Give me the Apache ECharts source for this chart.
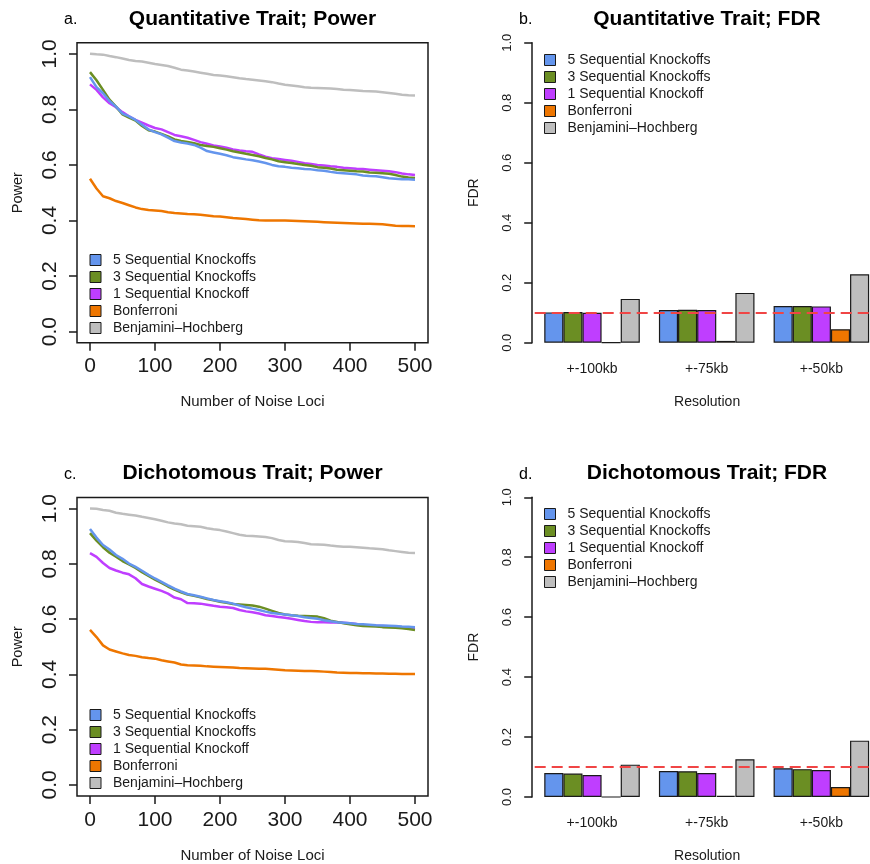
<!DOCTYPE html>
<html>
<head>
<meta charset="utf-8">
<title>Sequential Knockoffs: Power and FDR</title>
<script src="https://cdn.jsdelivr.net/npm/echarts@6/dist/echarts.min.js"></script>
<style>
html, body { margin: 0; padding: 0; background: #fff; }
#main { width: 870px; height: 864px; }
</style>
</head>
<body>
<div id="main"></div>
<script>
var methods = ['5 Sequential Knockoffs', '3 Sequential Knockoffs', '1 Sequential Knockoff', 'Bonferroni', 'Benjamini\u2013Hochberg'];
var colors = ['#6495ED', '#6B8E23', '#BF3EFF', '#EE7600', '#BEBEBE'];

var noiseLoci = [0, 10, 20, 30, 40, 50, 60, 70, 80, 90, 100, 110, 120, 130, 140, 150, 160, 170, 180, 190, 200,
    210, 220, 230, 240, 250, 260, 270, 280, 290, 300, 310, 320, 330, 340, 350, 360, 370, 380, 390, 400,
    410, 420, 430, 440, 450, 460, 470, 480, 490, 500];
var lociTicks = [0, 100, 200, 300, 400, 500];
var probTicks = [0, 0.2, 0.4, 0.6, 0.8, 1.0];
var resolutions = ['+-100kb', '+-75kb', '+-50kb'];
var resolutionSlots = [0, 1, 2];
var fdrTarget = 0.1;

// a. quantitative trait, power vs number of noise loci
var quantPow5 = [0.916, 0.880, 0.858, 0.830, 0.810, 0.785, 0.775, 0.762, 0.745, 0.728, 0.718, 0.710, 0.698, 0.686, 0.681, 0.677, 0.672, 0.662, 0.650, 0.645, 0.640,
    0.635, 0.628, 0.624, 0.620, 0.617, 0.612, 0.607, 0.600, 0.595, 0.593, 0.590, 0.588, 0.585, 0.584, 0.581, 0.579, 0.575, 0.572, 0.570, 0.568,
    0.566, 0.562, 0.560, 0.559, 0.556, 0.552, 0.550, 0.548, 0.548, 0.547];
var quantPow3 = [0.934, 0.905, 0.870, 0.835, 0.810, 0.782, 0.770, 0.760, 0.740, 0.725, 0.720, 0.712, 0.703, 0.692, 0.686, 0.683, 0.678, 0.672, 0.668, 0.665, 0.660,
    0.655, 0.649, 0.645, 0.640, 0.636, 0.631, 0.625, 0.620, 0.613, 0.610, 0.607, 0.603, 0.600, 0.597, 0.592, 0.590, 0.587, 0.583, 0.581, 0.579,
    0.577, 0.576, 0.573, 0.572, 0.570, 0.568, 0.564, 0.558, 0.555, 0.553];
var quantPow1 = [0.890, 0.870, 0.843, 0.822, 0.808, 0.790, 0.775, 0.762, 0.752, 0.742, 0.733, 0.728, 0.718, 0.708, 0.703, 0.698, 0.690, 0.682, 0.676, 0.670, 0.666,
    0.662, 0.656, 0.652, 0.649, 0.647, 0.638, 0.630, 0.624, 0.621, 0.618, 0.615, 0.611, 0.606, 0.603, 0.600, 0.598, 0.595, 0.593, 0.590, 0.588,
    0.586, 0.585, 0.583, 0.581, 0.579, 0.577, 0.574, 0.569, 0.566, 0.564];
var quantPowBonf = [0.550, 0.515, 0.487, 0.480, 0.470, 0.463, 0.455, 0.447, 0.441, 0.438, 0.436, 0.434, 0.430, 0.427, 0.425, 0.423, 0.422, 0.421, 0.418, 0.415, 0.414,
    0.412, 0.409, 0.407, 0.405, 0.403, 0.401, 0.400, 0.400, 0.400, 0.400, 0.399, 0.398, 0.397, 0.396, 0.395, 0.394, 0.393, 0.392, 0.391, 0.390,
    0.389, 0.388, 0.388, 0.387, 0.386, 0.384, 0.381, 0.380, 0.380, 0.379];
var quantPowBH = [1.000, 0.998, 0.997, 0.992, 0.988, 0.983, 0.978, 0.974, 0.972, 0.968, 0.963, 0.960, 0.956, 0.950, 0.943, 0.940, 0.936, 0.932, 0.928, 0.924, 0.922,
    0.919, 0.916, 0.912, 0.909, 0.907, 0.904, 0.901, 0.898, 0.893, 0.889, 0.886, 0.883, 0.880, 0.878, 0.877, 0.876, 0.875, 0.873, 0.871, 0.870,
    0.868, 0.866, 0.865, 0.864, 0.862, 0.859, 0.856, 0.853, 0.851, 0.850];

// b. quantitative trait, FDR by resolution
var quantFdr5 = [0.101, 0.109, 0.122];
var quantFdr3 = [0.102, 0.110, 0.122];
var quantFdr1 = [0.100, 0.109, 0.121];
var quantFdrBonf = [0.000, 0.006, 0.045];
var quantFdrBH = [0.146, 0.166, 0.228];

// c. dichotomous trait, power vs number of noise loci
var dichPow5 = [0.926, 0.895, 0.868, 0.852, 0.832, 0.818, 0.801, 0.789, 0.775, 0.760, 0.747, 0.735, 0.722, 0.710, 0.700, 0.691, 0.686, 0.681, 0.675, 0.669, 0.665,
    0.661, 0.656, 0.649, 0.643, 0.638, 0.633, 0.627, 0.622, 0.619, 0.617, 0.614, 0.611, 0.607, 0.604, 0.601, 0.596, 0.592, 0.589, 0.587, 0.585,
    0.582, 0.581, 0.580, 0.578, 0.577, 0.576, 0.575, 0.573, 0.572, 0.571];
var dichPow3 = [0.911, 0.884, 0.860, 0.840, 0.826, 0.810, 0.798, 0.785, 0.770, 0.756, 0.743, 0.731, 0.718, 0.707, 0.697, 0.689, 0.684, 0.679, 0.673, 0.668, 0.663,
    0.659, 0.655, 0.653, 0.651, 0.649, 0.645, 0.638, 0.630, 0.622, 0.617, 0.614, 0.612, 0.611, 0.610, 0.609, 0.603, 0.594, 0.590, 0.585, 0.581,
    0.578, 0.575, 0.574, 0.573, 0.571, 0.570, 0.569, 0.567, 0.564, 0.561];
var dichPow1 = [0.839, 0.825, 0.803, 0.785, 0.776, 0.768, 0.762, 0.748, 0.727, 0.718, 0.710, 0.702, 0.692, 0.678, 0.672, 0.658, 0.657, 0.656, 0.652, 0.648, 0.645,
    0.643, 0.640, 0.633, 0.628, 0.625, 0.620, 0.614, 0.611, 0.608, 0.605, 0.601, 0.597, 0.593, 0.590, 0.589, 0.589, 0.588, 0.588, 0.587, 0.585,
    0.582, 0.579, 0.577, 0.576, 0.575, 0.574, 0.572, 0.570, 0.568, 0.567];
var dichPowBonf = [0.561, 0.535, 0.505, 0.490, 0.483, 0.476, 0.470, 0.467, 0.462, 0.459, 0.457, 0.451, 0.447, 0.443, 0.436, 0.433, 0.432, 0.431, 0.429, 0.428, 0.427,
    0.426, 0.425, 0.423, 0.422, 0.421, 0.420, 0.420, 0.419, 0.417, 0.415, 0.414, 0.413, 0.412, 0.412, 0.411, 0.410, 0.409, 0.407, 0.406, 0.405,
    0.405, 0.404, 0.404, 0.403, 0.403, 0.402, 0.402, 0.401, 0.401, 0.401];
var dichPowBH = [1.000, 0.999, 0.995, 0.992, 0.985, 0.981, 0.978, 0.975, 0.970, 0.966, 0.961, 0.956, 0.950, 0.946, 0.943, 0.938, 0.936, 0.934, 0.929, 0.925, 0.922,
    0.917, 0.911, 0.905, 0.902, 0.901, 0.899, 0.897, 0.893, 0.886, 0.882, 0.881, 0.879, 0.875, 0.871, 0.870, 0.869, 0.866, 0.864, 0.862, 0.862,
    0.860, 0.858, 0.856, 0.855, 0.853, 0.849, 0.846, 0.843, 0.840, 0.839];

// d. dichotomous trait, FDR by resolution
var dichFdr5 = [0.080, 0.087, 0.096];
var dichFdr3 = [0.078, 0.086, 0.093];
var dichFdr1 = [0.073, 0.080, 0.090];
var dichFdrBonf = [0.000, 0.004, 0.033];
var dichFdrBH = [0.108, 0.126, 0.188];

var font = '"Liberation Sans", Arial, Helvetica, sans-serif';
var ink = '#1a1a1a';

// the bar panels run off the right edge of the figure, so the
// resolution axis is cut before the last group's slot ends
var barPanelLeft = 534.7;
var barPanelWidth = 335.3;
var slotWidth = 114.67;

function lineSeries(k, values, idx) {
    return {
        name: methods[k],
        type: 'line',
        xAxisIndex: idx,
        yAxisIndex: idx,
        data: values.map(function (v, i) { return [noiseLoci[i], v]; }),
        showSymbol: false,
        color: colors[k],
        itemStyle: { color: colors[k] },
        lineStyle: { color: colors[k], width: 2.5 },
        animation: false
    };
}

function barSeries(k, values, idx) {
    return {
        name: methods[k],
        type: 'bar',
        xAxisIndex: idx,
        yAxisIndex: idx,
        data: values.map(function (v, i) { return [resolutionSlots[i], v]; }),
        barGap: '0%',
        barCategoryGap: '16.667%',
        color: colors[k],
        itemStyle: { color: colors[k], borderColor: ink, borderWidth: 1.2 },
        animation: false
    };
}

function targetLine() {
    return {
        symbol: 'none',
        silent: true,
        label: { show: false },
        lineStyle: { color: '#F04545', type: [11, 6], width: 2 },
        data: [{ yAxis: fdrTarget }]
    };
}

function legendAt(left, top) {
    return {
        data: methods,
        orient: 'vertical',
        left: left,
        top: top,
        padding: 0,
        icon: 'rect',
        itemWidth: 11,
        itemHeight: 11,
        itemGap: 3,
        selectedMode: false,
        itemStyle: { borderColor: ink, borderWidth: 1 },
        textStyle: { fontSize: 14, color: ink, fontFamily: font, padding: [0, 0, 0, 7] }
    };
}

function heading(text, left, top) {
    return {
        text: text, left: left, top: top, textAlign: 'center', padding: 0,
        textStyle: { fontSize: 21, fontWeight: 'bold', color: '#000', fontFamily: font }
    };
}

function tag(text, left, top) {
    return {
        text: text, left: left, top: top, padding: 0,
        textStyle: { fontSize: 16, fontWeight: 'normal', color: '#000', fontFamily: font }
    };
}

function lociAxis(idx) {
    return {
        type: 'value',
        gridIndex: idx,
        min: -20,
        max: 520,
        name: 'Number of Noise Loci',
        nameLocation: 'middle',
        nameGap: 52,
        nameTextStyle: { fontSize: 15, color: ink, fontFamily: font },
        axisLine: { show: false, onZero: false },
        axisTick: { customValues: lociTicks, length: 8, lineStyle: { color: ink, width: 1.5 } },
        axisLabel: { customValues: lociTicks, fontSize: 21, margin: 13.5, color: ink, fontFamily: font },
        splitLine: { show: false }
    };
}

function powerAxis(idx) {
    return {
        type: 'value',
        gridIndex: idx,
        min: -0.04,
        max: 1.04,
        name: 'Power',
        nameLocation: 'middle',
        nameGap: 52,
        nameTextStyle: { fontSize: 14.5, color: ink, fontFamily: font },
        axisLine: { show: false, onZero: false },
        axisTick: { customValues: probTicks, length: 8, lineStyle: { color: ink, width: 1.5 } },
        axisLabel: {
            customValues: probTicks, rotate: 90, fontSize: 21, margin: 16.5, color: ink, fontFamily: font,
            formatter: function (v) { return v.toFixed(1); }
        },
        splitLine: { show: false }
    };
}

function resolutionAxis(idx) {
    return {
        type: 'value',
        gridIndex: idx,
        min: -0.5,
        max: -0.5 + barPanelWidth / slotWidth,
        name: 'Resolution',
        nameLocation: 'middle',
        nameGap: 52,
        // the original plot region is wider than the figure, so its title sits a bit right of the visible centre
        nameTextStyle: { fontSize: 14, color: ink, fontFamily: font, padding: [0, 0, 0, 9.5] },
        axisLine: { show: false, onZero: false },
        axisTick: { show: false },
        axisLabel: {
            customValues: resolutionSlots, fontSize: 14, margin: 19, color: ink, fontFamily: font,
            formatter: function (v) { return resolutions[Math.round(v)]; }
        },
        splitLine: { show: false }
    };
}

function fdrAxis(idx) {
    return {
        type: 'value',
        gridIndex: idx,
        min: 0,
        max: 1,
        interval: 0.2,
        offset: 2.5,
        name: 'FDR',
        nameLocation: 'middle',
        nameGap: 51,
        nameTextStyle: { fontSize: 14, color: ink, fontFamily: font },
        axisLine: { show: true, onZero: false, lineStyle: { color: ink, width: 1.5 } },
        axisTick: { show: true, length: 8, lineStyle: { color: ink, width: 1.5 } },
        axisLabel: {
            rotate: 90, fontSize: 13, margin: 18, color: ink, fontFamily: font,
            formatter: function (v) { return v.toFixed(1); }
        },
        splitLine: { show: false }
    };
}

var boxStyle = { show: true, borderColor: ink, borderWidth: 1.5, backgroundColor: 'transparent' };

var series = [
    lineSeries(4, quantPowBH, 0),
    lineSeries(3, quantPowBonf, 0),
    lineSeries(2, quantPow1, 0),
    lineSeries(1, quantPow3, 0),
    lineSeries(0, quantPow5, 0),
    barSeries(0, quantFdr5, 1),
    barSeries(1, quantFdr3, 1),
    barSeries(2, quantFdr1, 1),
    barSeries(3, quantFdrBonf, 1),
    barSeries(4, quantFdrBH, 1),
    lineSeries(4, dichPowBH, 2),
    lineSeries(3, dichPowBonf, 2),
    lineSeries(2, dichPow1, 2),
    lineSeries(1, dichPow3, 2),
    lineSeries(0, dichPow5, 2),
    barSeries(0, dichFdr5, 3),
    barSeries(1, dichFdr3, 3),
    barSeries(2, dichFdr1, 3),
    barSeries(3, dichFdrBonf, 3),
    barSeries(4, dichFdrBH, 3)
];
series[9].markLine = targetLine();
series[19].markLine = targetLine();

var myChart = echarts.init(document.getElementById('main'), null, { renderer: 'canvas' });
var option = {
    backgroundColor: '#fff',
    animation: false,
    textStyle: { fontFamily: font },
    title: [
        heading('Quantitative Trait; Power', 252.5, 9),
        tag('a.', 64, 12),
        heading('Quantitative Trait; FDR', 707, 9),
        tag('b.', 519, 12),
        heading('Dichotomous Trait; Power', 252.5, 463),
        tag('c.', 64, 467),
        heading('Dichotomous Trait; FDR', 707, 463),
        tag('d.', 519, 467)
    ],
    legend: [
        legendAt(89.5, 253),
        legendAt(544, 53),
        legendAt(89.5, 708),
        legendAt(544, 507)
    ],
    grid: [
        Object.assign({ left: 77, top: 42.7, width: 351, height: 300 }, boxStyle),
        { left: barPanelLeft, top: 42.7, width: barPanelWidth, height: 300 },
        Object.assign({ left: 77, top: 497.5, width: 351, height: 300 }, boxStyle),
        { left: barPanelLeft, top: 497.3, width: barPanelWidth, height: 300 }
    ],
    xAxis: [lociAxis(0), resolutionAxis(1), lociAxis(2), resolutionAxis(3)],
    yAxis: [powerAxis(0), fdrAxis(1), powerAxis(2), fdrAxis(3)],
    series: series
};
myChart.setOption(option);
</script>
</body>
</html>
